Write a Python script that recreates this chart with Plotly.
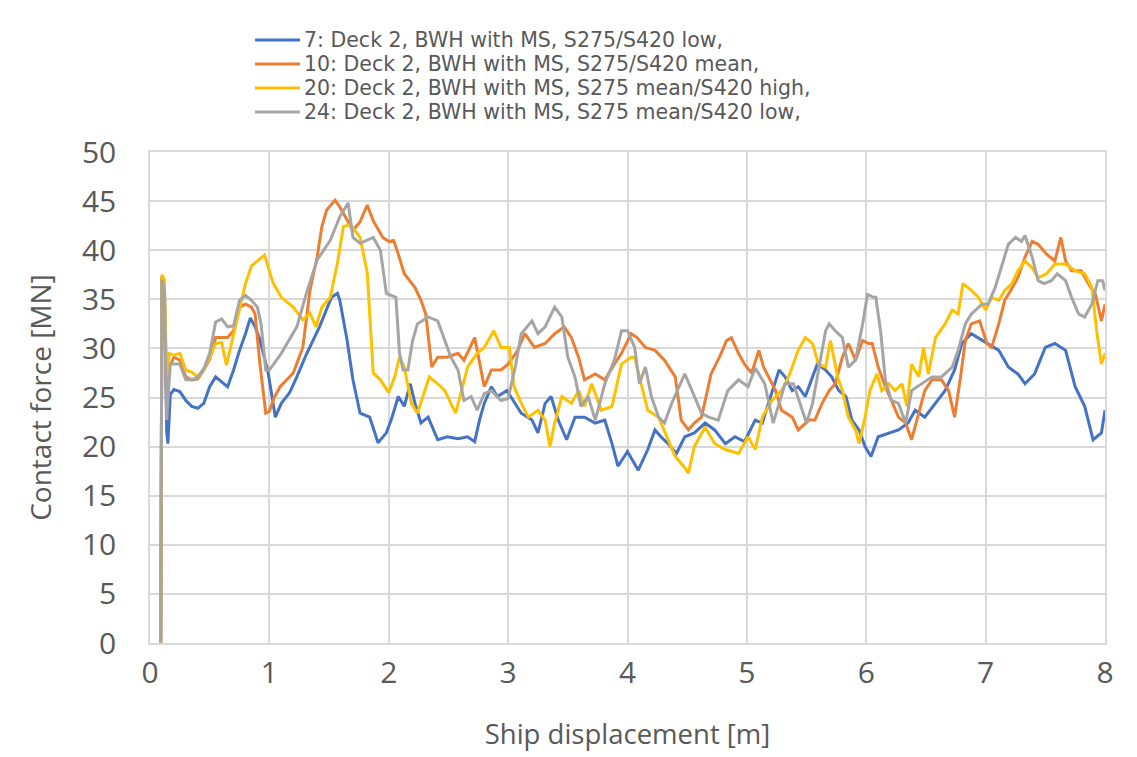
import plotly.graph_objects as go

# ---- data ----
x_7 = [0.09, 0.1, 0.12, 0.14, 0.15, 0.17, 0.2, 0.25, 0.3, 0.35, 0.4, 0.45, 0.5, 0.55, 0.6, 0.65, 0.7, 0.75, 0.8, 0.84, 0.88, 0.92, 0.99, 1.05, 1.1, 1.17, 1.23, 1.31, 1.42, 1.52, 1.57, 1.59, 1.65, 1.7, 1.76, 1.84, 1.91, 1.98, 2.02, 2.08, 2.13, 2.18, 2.22, 2.27, 2.33, 2.41, 2.49, 2.58, 2.66, 2.72, 2.76, 2.8, 2.86, 2.91, 2.99, 3.06, 3.11, 3.2, 3.25, 3.31, 3.36, 3.42, 3.49, 3.56, 3.64, 3.73, 3.81, 3.87, 3.92, 4.0, 4.09, 4.17, 4.23, 4.28, 4.34, 4.41, 4.48, 4.56, 4.65, 4.73, 4.82, 4.9, 4.98, 5.07, 5.13, 5.18, 5.27, 5.32, 5.38, 5.43, 5.49, 5.55, 5.59, 5.66, 5.71, 5.77, 5.83, 5.88, 5.94, 5.99, 6.04, 6.1, 6.19, 6.27, 6.35, 6.41, 6.49, 6.58, 6.66, 6.74, 6.8, 6.88, 6.97, 7.02, 7.11, 7.19, 7.27, 7.33, 7.41, 7.5, 7.58, 7.67, 7.75, 7.83, 7.9, 7.97, 8.0]
y_7 = [0, 37.3, 36, 21.5, 20.3, 25.3, 25.8, 25.6, 24.7, 24.1, 23.9, 24.4, 26.1, 27.1, 26.6, 26.1, 27.8, 29.8, 31.5, 33.1, 32.2, 30.9, 27.5, 23.0, 24.4, 25.5, 27.1, 29.4, 32.2, 35.2, 35.6, 34.9, 30.9, 26.8, 23.4, 23.0, 20.4, 21.4, 22.7, 25.1, 24.1, 26.4, 24.4, 22.4, 23.0, 20.7, 21.0, 20.8, 21.0, 20.5, 22.7, 24.4, 26.1, 25.1, 25.7, 24.4, 23.4, 22.7, 21.4, 24.4, 25.1, 22.7, 20.7, 23.0, 23.0, 22.4, 22.7, 20.3, 18.0, 19.5, 17.6, 19.7, 21.7, 21.0, 20.3, 19.3, 21.0, 21.4, 22.4, 21.7, 20.3, 21.0, 20.5, 22.7, 22.4, 24.4, 27.8, 27.1, 25.7, 26.1, 25.1, 27.1, 28.4, 27.8, 27.1, 25.7, 25.1, 22.7, 21.7, 20.0, 19.0, 21.0, 21.4, 21.7, 22.4, 23.7, 23.0, 24.4, 25.7, 27.8, 30.5, 31.5, 30.8, 30.5, 29.8, 28.1, 27.4, 26.4, 27.4, 30.1, 30.5, 29.8, 26.1, 24.1, 20.7, 21.4, 23.7]

x_10 = [0.09, 0.1, 0.12, 0.14, 0.16, 0.2, 0.25, 0.3, 0.35, 0.4, 0.45, 0.5, 0.55, 0.6, 0.65, 0.7, 0.75, 0.8, 0.85, 0.88, 0.92, 0.97, 1.0, 1.04, 1.09, 1.2, 1.28, 1.34, 1.4, 1.44, 1.48, 1.55, 1.59, 1.65, 1.7, 1.76, 1.82, 1.87, 1.95, 2.0, 2.04, 2.08, 2.13, 2.22, 2.27, 2.31, 2.36, 2.41, 2.49, 2.58, 2.63, 2.72, 2.76, 2.8, 2.86, 2.94, 3.0, 3.08, 3.14, 3.22, 3.31, 3.39, 3.47, 3.53, 3.59, 3.64, 3.73, 3.81, 3.89, 3.95, 4.03, 4.08, 4.15, 4.23, 4.31, 4.4, 4.45, 4.51, 4.56, 4.62, 4.7, 4.77, 4.83, 4.87, 4.93, 4.98, 5.04, 5.1, 5.14, 5.18, 5.24, 5.29, 5.38, 5.43, 5.52, 5.57, 5.63, 5.69, 5.74, 5.8, 5.85, 5.91, 5.97, 6.02, 6.05, 6.1, 6.16, 6.21, 6.27, 6.33, 6.38, 6.44, 6.49, 6.55, 6.63, 6.69, 6.74, 6.79, 6.83, 6.88, 6.95, 7.01, 7.05, 7.11, 7.16, 7.21, 7.27, 7.33, 7.39, 7.44, 7.51, 7.58, 7.63, 7.67, 7.72, 7.8, 7.86, 7.92, 7.97, 8.0]
y_10 = [0, 37.3, 36.5, 24, 28, 29.1, 28.8, 27.1, 26.8, 26.9, 27.8, 28.9, 31.1, 31.1, 31.1, 31.8, 34.2, 34.5, 34.2, 33.5, 28.5, 23.4, 23.6, 25.0, 26.1, 27.5, 30.1, 35.9, 39.3, 42.4, 44.1, 45.1, 44.4, 43.1, 42.0, 42.9, 44.6, 43.0, 41.3, 40.9, 41.0, 39.6, 37.6, 36.2, 34.9, 33.5, 28.1, 29.1, 29.1, 29.5, 28.8, 31.1, 28.4, 26.1, 27.8, 27.8, 28.4, 29.8, 31.5, 30.1, 30.5, 31.5, 32.2, 31.1, 29.1, 26.8, 27.4, 26.8, 28.4, 29.5, 31.5, 31.1, 30.1, 29.8, 28.8, 27.1, 22.7, 21.7, 22.4, 23.0, 27.4, 29.1, 30.8, 31.1, 29.5, 28.4, 27.5, 29.8, 28.1, 27.1, 25.7, 23.7, 23.0, 21.7, 22.7, 22.7, 24.4, 25.7, 26.4, 29.1, 30.5, 28.8, 30.8, 30.5, 30.5, 28.1, 26.1, 24.7, 23.0, 22.4, 20.7, 23.4, 25.7, 26.8, 26.8, 25.7, 23.0, 27.1, 30.8, 32.5, 32.8, 30.5, 30.1, 32.5, 34.9, 35.9, 37.2, 39.3, 40.9, 40.6, 39.6, 38.9, 41.3, 38.9, 37.9, 37.9, 36.6, 35.5, 32.8, 34.5]

x_20 = [0.09, 0.1, 0.12, 0.14, 0.16, 0.2, 0.25, 0.3, 0.35, 0.4, 0.45, 0.5, 0.55, 0.6, 0.64, 0.7, 0.75, 0.8, 0.85, 0.9, 0.96, 1.03, 1.1, 1.2, 1.28, 1.34, 1.39, 1.44, 1.51, 1.57, 1.62, 1.68, 1.76, 1.82, 1.87, 1.93, 2.0, 2.05, 2.09, 2.13, 2.19, 2.24, 2.3, 2.34, 2.41, 2.47, 2.52, 2.56, 2.61, 2.66, 2.74, 2.8, 2.88, 2.94, 3.01, 3.05, 3.11, 3.17, 3.25, 3.31, 3.35, 3.39, 3.45, 3.53, 3.59, 3.64, 3.7, 3.78, 3.87, 3.95, 4.03, 4.06, 4.12, 4.17, 4.26, 4.34, 4.4, 4.47, 4.51, 4.56, 4.65, 4.73, 4.82, 4.93, 5.01, 5.07, 5.13, 5.21, 5.29, 5.35, 5.43, 5.49, 5.55, 5.6, 5.66, 5.7, 5.76, 5.8, 5.85, 5.91, 5.94, 5.99, 6.03, 6.09, 6.13, 6.19, 6.24, 6.3, 6.34, 6.38, 6.44, 6.48, 6.52, 6.58, 6.66, 6.72, 6.77, 6.81, 6.88, 6.94, 7.0, 7.05, 7.11, 7.16, 7.22, 7.27, 7.33, 7.39, 7.44, 7.51, 7.58, 7.67, 7.75, 7.83, 7.89, 7.93, 7.97, 8.0]
y_20 = [0, 37.5, 37, 27, 29.5, 29.3, 29.5, 27.8, 27.6, 27.1, 27.9, 29.1, 30.5, 30.6, 28.3, 31.5, 33.9, 36.6, 38.4, 38.9, 39.5, 36.7, 35.2, 34.2, 32.9, 33.6, 32.2, 34.2, 35.2, 38.7, 42.4, 42.6, 41.3, 37.7, 27.5, 26.8, 25.5, 27.1, 29.1, 28.1, 24.4, 23.4, 25.7, 27.1, 26.4, 25.7, 24.4, 23.4, 25.7, 28.1, 29.5, 30.1, 31.8, 30.1, 30.1, 26.1, 24.4, 23.0, 23.7, 22.7, 20.0, 22.4, 25.1, 24.4, 25.7, 24.1, 26.4, 23.7, 24.1, 28.4, 29.1, 29.1, 26.1, 23.7, 23.0, 20.7, 19.0, 18.0, 17.3, 20.0, 22.0, 20.3, 19.7, 19.3, 21.0, 19.7, 23.0, 24.7, 25.7, 27.1, 29.8, 31.1, 30.5, 28.4, 28.1, 30.8, 27.1, 25.7, 23.0, 21.7, 20.3, 23.0, 25.7, 27.4, 25.7, 26.4, 25.7, 26.4, 24.1, 28.4, 27.1, 30.1, 27.4, 31.1, 32.5, 33.9, 33.5, 36.6, 35.9, 35.2, 33.9, 35.2, 34.9, 35.9, 36.6, 37.9, 38.9, 38.2, 37.2, 37.6, 38.6, 38.6, 37.9, 37.6, 36.2, 31.8, 28.4, 29.5]

x_24 = [0.09, 0.1, 0.12, 0.14, 0.17, 0.2, 0.25, 0.3, 0.35, 0.4, 0.45, 0.5, 0.55, 0.6, 0.65, 0.7, 0.75, 0.8, 0.85, 0.9, 0.93, 0.97, 1.0, 1.1, 1.23, 1.31, 1.4, 1.51, 1.59, 1.66, 1.7, 1.76, 1.87, 1.93, 1.98, 2.06, 2.09, 2.12, 2.16, 2.2, 2.24, 2.33, 2.41, 2.47, 2.52, 2.58, 2.63, 2.69, 2.74, 2.8, 2.86, 2.94, 3.0, 3.06, 3.11, 3.2, 3.25, 3.31, 3.39, 3.45, 3.5, 3.56, 3.61, 3.67, 3.73, 3.81, 3.89, 3.95, 4.0, 4.06, 4.1, 4.15, 4.2, 4.26, 4.31, 4.37, 4.42, 4.48, 4.54, 4.62, 4.68, 4.76, 4.84, 4.93, 5.01, 5.07, 5.15, 5.22, 5.27, 5.32, 5.39, 5.46, 5.5, 5.55, 5.6, 5.66, 5.69, 5.74, 5.8, 5.85, 5.91, 5.97, 6.01, 6.06, 6.08, 6.12, 6.16, 6.21, 6.27, 6.33, 6.38, 6.47, 6.55, 6.63, 6.72, 6.77, 6.83, 6.88, 6.97, 7.02, 7.08, 7.14, 7.19, 7.25, 7.3, 7.33, 7.39, 7.44, 7.49, 7.55, 7.6, 7.67, 7.72, 7.78, 7.83, 7.89, 7.94, 7.98, 8.0]
y_24 = [0, 37, 36, 22.7, 28.4, 28.4, 28.4, 26.8, 26.8, 27.1, 27.9, 29.5, 32.7, 33.0, 32.2, 32.3, 34.9, 35.4, 34.9, 34.2, 32.5, 27.8, 27.8, 29.5, 32.2, 35.6, 39.0, 41.0, 43.4, 44.8, 41.3, 40.7, 41.3, 40.0, 35.6, 35.2, 29.5, 27.8, 27.8, 30.8, 32.5, 33.2, 32.8, 30.8, 29.1, 27.8, 24.7, 25.1, 23.7, 25.4, 25.7, 24.7, 24.9, 28.1, 31.5, 32.8, 31.5, 32.2, 34.2, 33.2, 29.1, 27.1, 24.1, 25.1, 22.7, 26.4, 28.8, 31.8, 31.8, 30.1, 26.4, 28.1, 25.1, 23.0, 22.4, 24.4, 25.7, 27.4, 25.7, 23.4, 23.0, 22.7, 25.7, 26.8, 26.1, 28.0, 26.4, 22.4, 24.4, 26.4, 26.4, 23.7, 22.4, 24.4, 27.8, 31.8, 32.5, 31.8, 31.1, 28.1, 28.8, 32.5, 35.5, 35.2, 35.2, 31.8, 26.8, 24.7, 24.4, 22.4, 25.7, 26.4, 27.1, 27.1, 28.1, 29.8, 32.5, 33.5, 34.5, 34.5, 36.2, 38.6, 40.6, 41.3, 40.9, 41.5, 39.3, 36.9, 36.6, 36.9, 37.6, 36.9, 35.2, 33.5, 33.2, 34.5, 36.9, 36.9, 35.9]

names = [
    "7: Deck 2, BWH with MS, S275/S420 low,",
    "10: Deck 2, BWH with MS, S275/S420 mean,",
    "20: Deck 2, BWH with MS, S275 mean/S420 high,",
    "24: Deck 2, BWH with MS, S275 mean/S420 low,",
]
colors = ["#4472C4", "#ED7D31", "#FFC000", "#A5A5A5"]
xs = [x_7, x_10, x_20, x_24]
ys = [y_7, y_10, y_20, y_24]

x_ticks = [0, 1, 2, 3, 4, 5, 6, 7, 8]
y_ticks = [0, 5, 10, 15, 20, 25, 30, 35, 40, 45, 50]

font_family = "'Open Sans', Lato, sans-serif"
legend_family = "'DejaVu Sans', 'Open Sans', sans-serif"
text_color = "#595959"
grid_color = "#D9D9D9"

fig = go.Figure()
for xv, yv, nm, c in zip(xs, ys, names, colors):
    fig.add_trace(go.Scatter(x=xv, y=yv, mode="lines", name=nm,
                             line=dict(color=c, width=3), showlegend=False))

# Legend drawn as line samples + text above the plot (Excel-style tight spacing)
plot_l, plot_t, plot_w, plot_h = 150, 152, 955, 491
leg_rows_px = [40, 64, 88, 112]
for nm, c, row in zip(names, colors, leg_rows_px):
    yp = (plot_t + plot_h - row) / plot_h
    fig.add_shape(type="line", xref="paper", yref="paper",
                  x0=(255 - plot_l) / plot_w, x1=(300 - plot_l) / plot_w,
                  y0=yp, y1=yp, line=dict(color=c, width=3))
    fig.add_annotation(xref="paper", yref="paper", x=(302 - plot_l) / plot_w, y=yp,
                       xanchor="left", yanchor="middle", text=nm, showarrow=False,
                       font=dict(size=20.5, color=text_color, family=legend_family))

fig.update_layout(
    width=1137, height=757,
    margin=dict(l=142, r=40, t=144, b=122),
    paper_bgcolor="white", plot_bgcolor="white",
    font=dict(family=font_family, color=text_color, size=22),
    showlegend=False,
    xaxis=dict(range=[0, 8], tickvals=x_ticks, showgrid=True, gridcolor=grid_color,
               gridwidth=1.5, showline=True, linecolor=grid_color, linewidth=1.5,
               mirror=True, zeroline=False, ticks="", tickfont=dict(size=30),
               ticklabelstandoff=2,
               title=dict(text="Ship displacement [m]", font=dict(size=27.5), standoff=34)),
    yaxis=dict(range=[0, 50], tickvals=y_ticks, showgrid=True, gridcolor=grid_color,
               gridwidth=1.5, showline=True, linecolor=grid_color, linewidth=1.5,
               mirror=True, zeroline=False, ticks="", tickfont=dict(size=30),
               ticklabelstandoff=26,
               title=dict(text="Contact force [MN]", font=dict(size=28), standoff=22)),
)

fig.write_html("out.html")
